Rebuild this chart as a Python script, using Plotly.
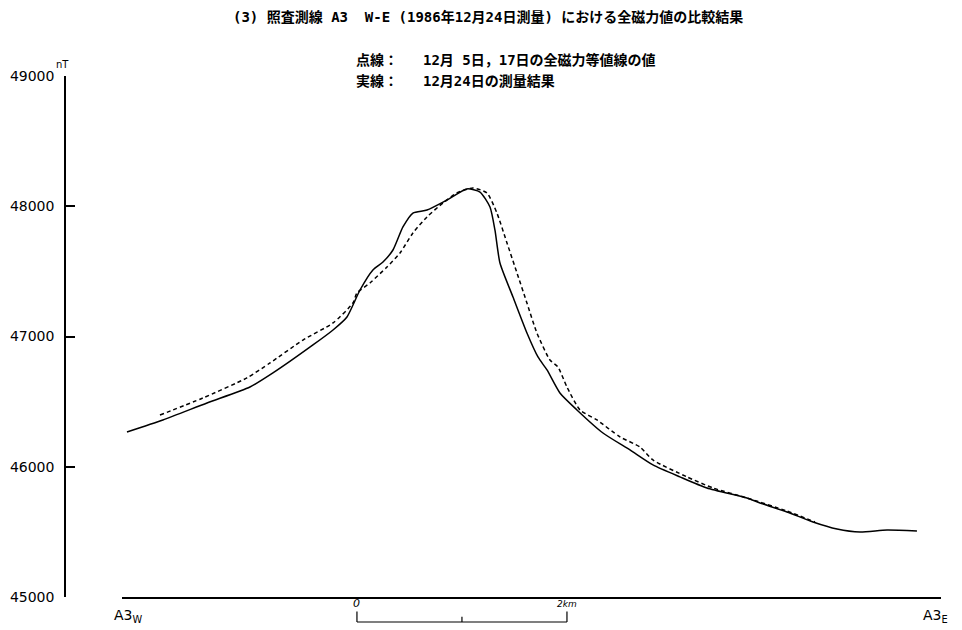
import plotly.graph_objects as go

# ---- data (distance along survey line from A3W in km, total field in nT) ----
solid_km = [0.048, 0.390, 0.810, 1.219, 1.438, 1.819, 2.010, 2.143, 2.267, 2.390, 2.486,
            2.581, 2.676, 2.771, 2.905, 3.095, 3.286, 3.410, 3.505, 3.552, 3.600, 3.724,
            3.857, 3.962, 4.048, 4.171, 4.333, 4.581, 4.838, 5.057, 5.314, 5.571, 5.952,
            6.076, 6.333, 6.581, 6.810, 7.029, 7.286, 7.571]
solid_nt = [46267, 46359, 46490, 46612, 46720, 46935, 47050, 47150, 47357, 47511, 47572,
            47664, 47841, 47948, 47971, 48048, 48133, 48109, 47994, 47818, 47564, 47303,
            47027, 46843, 46743, 46566, 46436, 46259, 46129, 46014, 45922, 45837, 45760,
            45722, 45653, 45576, 45522, 45499, 45515, 45507]

dashed_km = [0.362, 0.771, 1.190, 1.410, 1.724, 2.010, 2.200, 2.238, 2.362, 2.524, 2.648,
             2.771, 2.905, 3.057, 3.190, 3.343, 3.476, 3.571, 3.667, 3.762, 3.857, 3.952,
             4.076, 4.152, 4.238, 4.362, 4.524, 4.743, 4.933, 5.057, 5.381, 5.629, 5.952,
             6.333, 6.600]
dashed_nt = [46397, 46528, 46682, 46797, 46973, 47104, 47257, 47334, 47411, 47534, 47641,
             47795, 47918, 48025, 48102, 48140, 48102, 47948, 47718, 47488, 47257, 47027,
             46820, 46766, 46612, 46436, 46359, 46229, 46152, 46052, 45922, 45837, 45760,
             45660, 45576]

y_ticks = [45000, 46000, 47000, 48000, 49000]
x_range_km = [0, 7.8]
scale_start_km = 2.238
scale_len_km = 2.0

FONT = "DejaVu Sans, Liberation Sans, sans-serif"
CJK = "DejaVu Sans Mono, Noto Sans CJK JP, sans-serif"

fig = go.Figure()
fig.add_trace(go.Scatter(x=dashed_km, y=dashed_nt, mode="lines",
                         line=dict(color="black", width=1.5, dash="4px,3px", shape="spline", smoothing=0.6),
                         showlegend=False, hoverinfo="skip"))
fig.add_trace(go.Scatter(x=solid_km, y=solid_nt, mode="lines",
                         line=dict(color="black", width=1.5, shape="spline", smoothing=0.6),
                         showlegend=False, hoverinfo="skip"))

fig.update_layout(
    width=954, height=622,
    margin=dict(l=57, r=21, t=68, b=33, autoexpand=False),
    paper_bgcolor="white", plot_bgcolor="white",
    xaxis=dict(domain=[0.065, 1.0], range=x_range_km, showline=True, linecolor="black",
               linewidth=1.8, showticklabels=False, ticks="", showgrid=False, zeroline=False,
               automargin=False),
    yaxis=dict(range=[45000, 49000], anchor="free", position=0, showline=True,
               linecolor="black", linewidth=1.5, tickvals=y_ticks,
               ticktext=[str(v) for v in y_ticks], ticks="inside", ticklen=9,
               tickcolor="black", tickwidth=1.5, showgrid=False, zeroline=False,
               ticklabelstandoff=7, automargin=False,
               tickfont=dict(family=FONT, size=14, color="black")),
)

ann = [
    dict(text="(3) 照査測線 A3  W-E (1986年12月24日測量) における全磁力値の比較結果",
         x=0.483, y=1.113, font=dict(family=CJK, size=14, weight="bold")),
    dict(text="点線：", x=0.33, y=1.031, xanchor="left", font=dict(family=CJK, size=14, weight="bold")),
    dict(text="12月 5日，17日の全磁力等値線の値", x=0.406, y=1.031, xanchor="left",
         font=dict(family=CJK, size=14, weight="bold")),
    dict(text="実線：", x=0.33, y=0.990, xanchor="left", font=dict(family=CJK, size=14, weight="bold")),
    dict(text="12月24日の測量結果", x=0.406, y=0.990, xanchor="left",
         font=dict(family=CJK, size=14, weight="bold")),
    dict(text="nT", x=-0.003, y=1.023, font=dict(family=FONT, size=10)),
    dict(text="A3<sub>W</sub>", x=0.072, y=-0.037, font=dict(family=FONT, size=14)),
    dict(text="A3<sub>E</sub>", x=1.01, y=-0.037, xanchor="right", font=dict(family=FONT, size=14)),
]
for a in ann:
    a.setdefault("xanchor", "center")
    a.update(xref="paper", yref="paper", showarrow=False, yanchor="middle")
    a["font"]["color"] = "black"
fig.update_layout(annotations=ann)

# scale bar (km)
fig.add_annotation(text="<i>0</i>", x=scale_start_km, y=-0.013, xref="x", yref="paper",
                   yanchor="middle", showarrow=False, font=dict(family=FONT, size=11, color="black"))
fig.add_annotation(text="<i>2km</i>", x=scale_start_km + scale_len_km, y=-0.013, xref="x",
                   yref="paper", yanchor="middle", showarrow=False,
                   font=dict(family=FONT, size=9, color="black"))
ybar = -0.048
bar = dict(type="line", xref="x", yref="paper", line=dict(color="black", width=1.2))
fig.add_shape(**bar, x0=scale_start_km, x1=scale_start_km + scale_len_km, y0=ybar, y1=ybar)
fig.add_shape(**bar, x0=scale_start_km, x1=scale_start_km, y0=ybar, y1=-0.028)
fig.add_shape(**bar, x0=scale_start_km + scale_len_km, x1=scale_start_km + scale_len_km, y0=ybar, y1=-0.028)
fig.add_shape(**bar, x0=scale_start_km + scale_len_km / 2, x1=scale_start_km + scale_len_km / 2,
              y0=ybar, y1=-0.038)

fig.write_html("out.html")
